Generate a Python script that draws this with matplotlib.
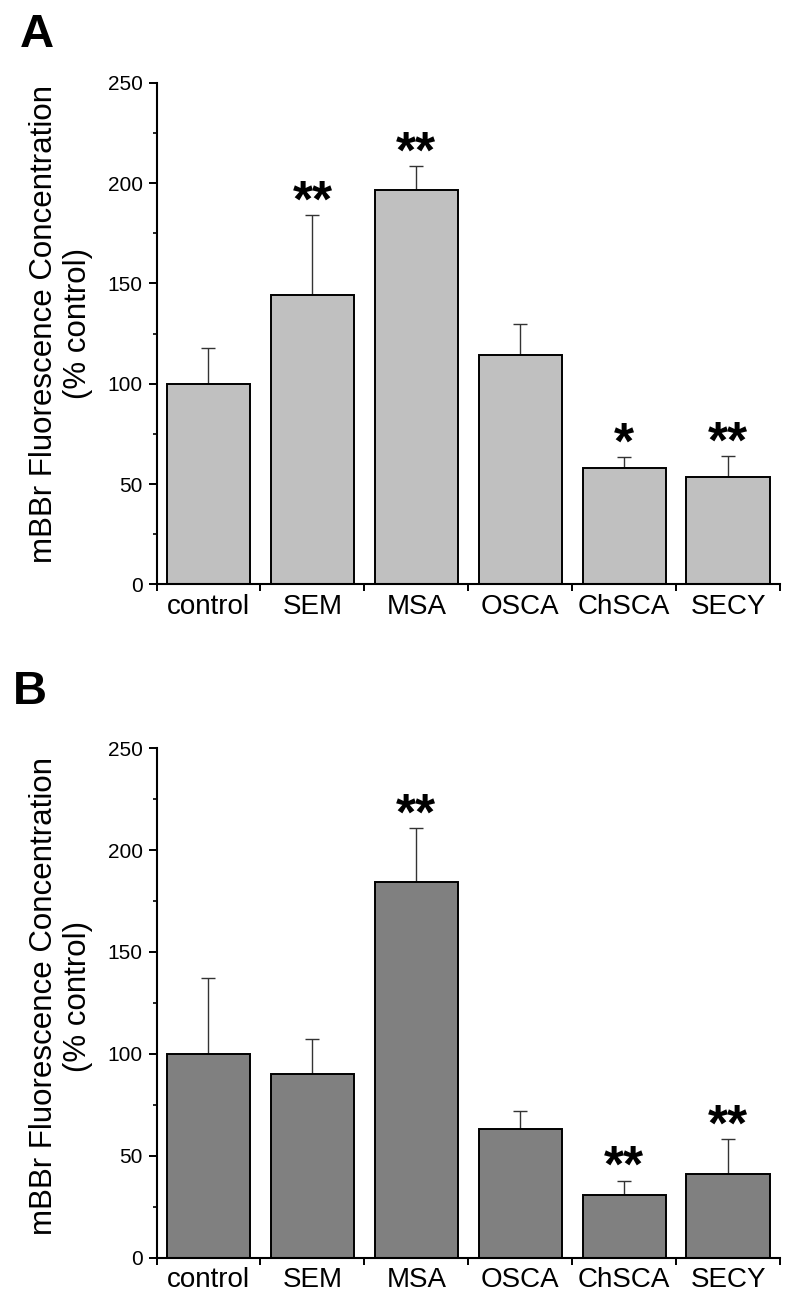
import matplotlib
matplotlib.use("Agg")
import matplotlib.pyplot as plt
from matplotlib.ticker import MultipleLocator
import numpy as np

categories = ["control", "SEM", "MSA", "OSCA", "ChSCA", "SECY"]

values_a = [100, 144.3, 196.5, 114.3, 58.0, 53.4]
errors_a = [17.6, 39.6, 12.0, 15.4, 5.5, 10.4]
stars_a = ["", "**", "**", "", "*", "**"]

values_b = [100, 90.0, 184.3, 62.9, 30.5, 40.9]
errors_b = [37.0, 17.3, 26.6, 8.8, 7.3, 17.2]
stars_b = ["", "", "**", "", "**", "**"]

ylabel = "mBBr Fluorescence Concentration\n(% control)"

plt.rcParams["font.family"] = ["Liberation Sans", "DejaVu Sans"]

fig = plt.figure(figsize=(8, 13.04), dpi=100)

W, H = 800, 1304


def make_axes(x0, x1, ytop, ybot):
    return fig.add_axes([x0 / W, 1 - ybot / H, (x1 - x0) / W, (ybot - ytop) / H])


ax_a = make_axes(156.5, 780, 82.7, 584.4)
ax_b = make_axes(156.5, 780, 748.3, 1257.5)


def draw(ax, values, errors, stars, color):
    x = np.arange(1, len(categories) + 1)
    ax.bar(x, values, width=0.8, color=color, edgecolor="black", linewidth=1.4, zorder=2)
    ax.errorbar(x, values, yerr=[np.zeros(len(values)), errors], fmt="none",
                ecolor="#333333", elinewidth=1.0, capsize=5, capthick=1.0, zorder=1)
    for xi, v, e, s in zip(x, values, errors, stars):
        if s:
            ax.annotate(s, (xi, v + e), xytext=(0, -1), textcoords="offset points",
                        ha="center", va="baseline", fontsize=37, fontweight="bold",
                        color="black")
    ax.set_xlim(0.5, len(categories) + 0.5)
    ax.set_ylim(0, 250)
    ax.spines["top"].set_visible(False)
    ax.spines["right"].set_visible(False)
    ax.spines["left"].set_linewidth(1.5)
    ax.spines["bottom"].set_linewidth(1.5)
    ax.yaxis.set_major_locator(MultipleLocator(50))
    ax.yaxis.set_minor_locator(MultipleLocator(25))
    ax.tick_params(axis="y", which="major", length=6, width=1.4, labelsize=15, pad=4)
    ax.tick_params(axis="y", which="minor", length=3, width=1.2)
    # category labels centered, ticks at category boundaries
    ax.set_xticks(np.arange(0.5, len(categories) + 1, 1.0))
    ax.set_xticklabels([""] * (len(categories) + 1))
    ax.set_xticks(x, minor=True)
    ax.set_xticklabels(categories, minor=True, fontsize=20)
    ax.tick_params(axis="x", which="major", length=5, width=1.4)
    ax.tick_params(axis="x", which="minor", length=0, pad=7)
    ax.set_ylabel(ylabel, fontsize=22.5, linespacing=1.15)


draw(ax_a, values_a, errors_a, stars_a, "#C0C0C0")
draw(ax_b, values_b, errors_b, stars_b, "#808080")

ax_a.yaxis.set_label_coords(-0.102, 0.52)
ax_b.yaxis.set_label_coords(-0.102, 0.513)

fig.text(20 / W, 1 - 47 / H, "A", fontsize=34, fontweight="bold", ha="left", va="baseline")
fig.text(13 / W, 1 - 704 / H, "B", fontsize=34, fontweight="bold", ha="left", va="baseline")

fig.savefig("out.png", dpi=100, facecolor="white")
